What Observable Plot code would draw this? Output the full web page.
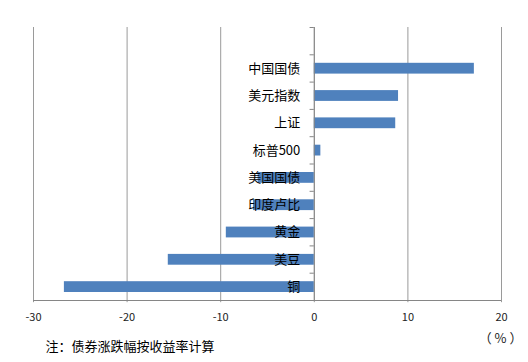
<!DOCTYPE html>
<html>
<head>
<meta charset="utf-8">
<script src="https://cdn.jsdelivr.net/npm/d3@7"></script>
<script src="https://cdn.jsdelivr.net/npm/@observablehq/plot@0.6"></script>
<style>
  html, body { margin: 0; padding: 0; background: #fff; }
  #chart { width: 528px; height: 362px; }
</style>
</head>
<body>
<div id="chart"></div>
<script>
// Data (top row of the chart is intentionally empty)
const categories = ["", "中国国债", "美元指数", "上证", "标普500", "美国国债", "印度卢比", "黄金", "美豆", "铜"];
const values = [null, 17.1, 9.0, 8.7, 0.7, -6.0, -6.5, -9.4, -15.6, -26.7];
const xTicks = [-30, -20, -10, 0, 10, 20];
const unitLabel = "（ % ）";
const note = "注：债券涨跌幅按收益率计算";

const n = categories.length;
const rows = categories.map((c, i) => ({name: c, value: values[i], i}));
const bars = rows.filter(d => d.value !== null);
const font = "'Noto Sans CJK SC', 'Noto Sans', sans-serif";

const chart = Plot.plot({
  width: 528,
  height: 362,
  marginTop: 27,
  marginBottom: 62,
  marginLeft: 33,
  marginRight: 27,
  style: {fontFamily: font, background: "#fff", overflow: "visible"},
  x: {type: "linear", domain: [-30, 20], axis: null},
  y: {type: "linear", domain: [0, n], reverse: true, axis: null},
  marks: [
    Plot.ruleX(xTicks, {x: d => d, y1: 0, y2: n + 0.08, stroke: "#9a9a9a", strokeWidth: 1}),
    Plot.ruleY([n], {y: d => d, stroke: "#868686", strokeWidth: 1}),
    Plot.rectX(bars, {x1: 0, x2: "value", y1: "i", y2: d => d.i + 1, insetTop: 8.5, insetBottom: 8, fill: "#4F81BD"}),
    Plot.ruleX([0], {x: d => d, y1: 0, y2: n, stroke: "#868686", strokeWidth: 1}),
    Plot.ruleY(d3.range(n + 1), {y: d => d, x1: -0.45, x2: 0, stroke: "#868686", strokeWidth: 1}),
    Plot.text(bars, {x: 0, y: d => d.i + 0.5, text: "name", dx: -14, textAnchor: "end", fontSize: 13, fill: "#000"}),
    Plot.text(xTicks, {x: d => d, y: n, text: d => String(d), dy: 17, fontSize: 11, fill: "#222"}),
    Plot.text([unitLabel], {frameAnchor: "bottom-right", text: d => d, dx: 21, dy: 42, fontSize: 13, fill: "#222"}),
    Plot.text([note], {frameAnchor: "bottom-left", text: d => d, dx: 12, dy: 50, textAnchor: "start", fontSize: 13, fill: "#000"})
  ]
});
document.getElementById("chart").appendChild(chart);
</script>
</body>
</html>
